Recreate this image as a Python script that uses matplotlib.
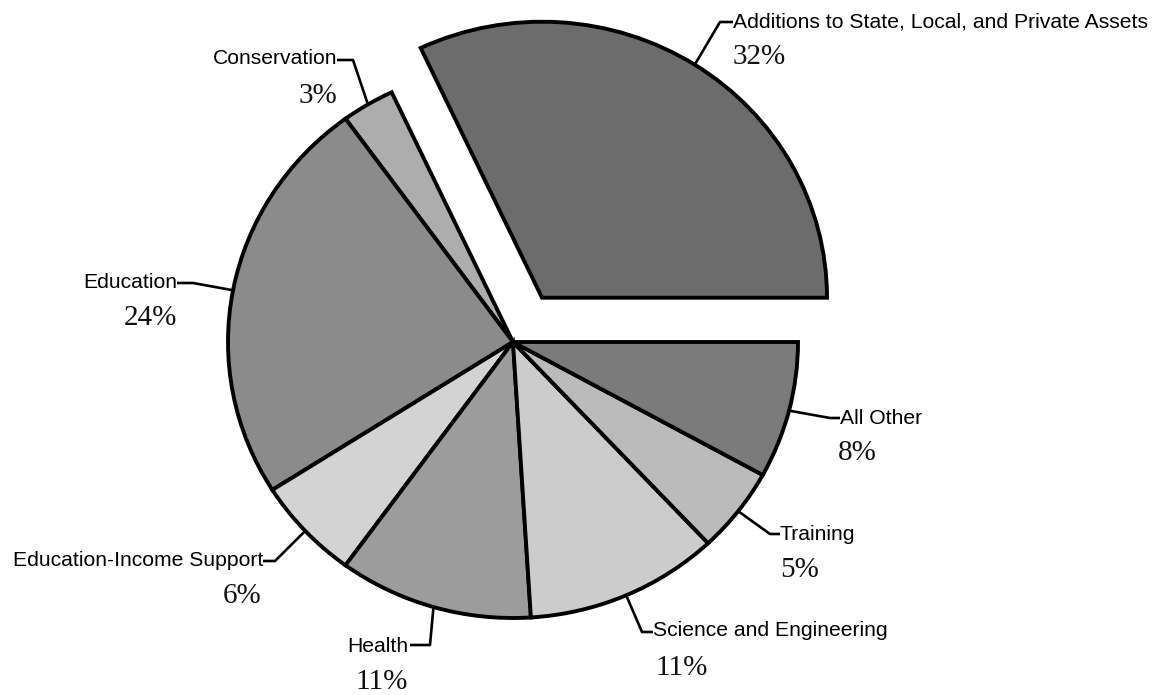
import matplotlib
matplotlib.use("Agg")
import matplotlib.pyplot as plt
import numpy as np

# ---- data ----
categories = ["Additions to State, Local, and Private Assets", "Conservation", "Education",
              "Education-Income Support", "Health", "Science and Engineering", "Training", "All Other"]
values = [32, 3, 24, 6, 11, 11, 5, 8]
pct_labels = ["32%", "3%", "24%", "6%", "11%", "11%", "5%", "8%"]
colors = ["#6c6c6c", "#adadad", "#8b8b8b", "#d3d3d3", "#9c9c9c", "#cccccc", "#bbbbbb", "#7b7b7b"]
explode = [0.19, 0, 0, 0, 0, 0, 0, 0]

# ---- layout (pixel positions, y from top) ----
W, H = 1161, 695
RX, RY = 285, 276
CENTER = (513, 342)
# (elbow, line end, text x, name y, pct x, pct y, ha)
layout = [
    ((720, 22), (733, 22), 733, 22, 733, 57, "left"),
    ((353, 60), (337, 60), 337, 59, 337, 96, "right"),
    ((193, 283), (177, 283), 177, 282, 177, 318, "right"),
    ((275, 561), (263, 561), 263, 561, 262, 596, "right"),
    ((430, 645), (410, 645), 408, 646, 408, 682, "right"),
    ((642, 632), (653, 632), 653, 631, 655, 668, "left"),
    ((770, 534), (780, 534), 780, 534, 780, 570, "left"),
    ((830, 418), (840, 418), 840, 418, 838, 453, "left"),
]


def P(x, y):
    return (x / RX, (H - y) / RY)


fig = plt.figure(figsize=(W / 100, H / 100), dpi=100)
ax = fig.add_axes([0, 0, 1, 1])

wedges, _ = ax.pie(values, colors=colors, explode=explode, startangle=0, counterclock=True,
                   center=P(*CENTER), radius=1,
                   wedgeprops=dict(edgecolor="black", linewidth=2.8))
ax.set_aspect("auto")
ax.set_xlim(0, W / RX)
ax.set_ylim(0, H / RY)
ax.axis("off")

for w, name, pct, lay in zip(wedges, categories, pct_labels, layout):
    elbow, end, tx, ny, px, py, ha = lay
    mid = np.deg2rad((w.theta1 + w.theta2) / 2)
    cx, cy = w.center
    sx = cx + w.r * np.cos(mid)
    sy = cy + w.r * np.sin(mid)
    ex, ey = P(*elbow)
    lx, ly = P(*end)
    ax.plot([sx, ex, lx], [sy, ey, ly], color="black", lw=1.9, solid_capstyle="butt", zorder=5)
    ax.text(*P(tx, ny), name, ha=ha, va="center", fontsize=15.2,
            family="Liberation Sans", color="black")
    ax.text(*P(px, py), pct, ha=ha, va="center", fontsize=21,
            family="Liberation Serif", color="#111111")

fig.savefig("out.png", dpi=100)
